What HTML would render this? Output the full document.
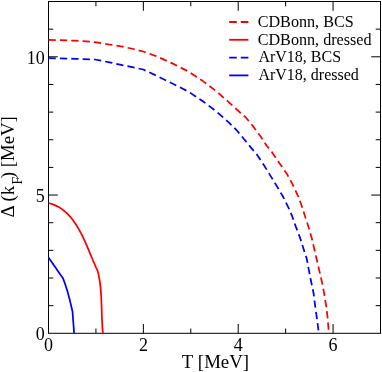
<!DOCTYPE html>
<html><head><meta charset="utf-8"><title>Gap vs temperature</title>
<style>
html,body{margin:0;padding:0;background:#fff;}
body{width:382px;height:372px;overflow:hidden;}
svg{display:block;will-change:transform;transform:translateZ(0);}
text{font-family:"Liberation Serif",serif;fill:#000;font-kerning:none;}
</style></head><body>
<svg width="382" height="372" viewBox="0 0 382 372">
<rect x="0" y="0" width="382" height="372" fill="#fff"/>
<g stroke="#000" stroke-width="1" fill="none">
<line x1="95.93" y1="333.3" x2="95.93" y2="328.50"/>
<line x1="95.93" y1="1.5" x2="95.93" y2="6.30"/>
<line x1="143.36" y1="333.3" x2="143.36" y2="324.00"/>
<line x1="143.36" y1="1.5" x2="143.36" y2="10.80"/>
<line x1="190.79" y1="333.3" x2="190.79" y2="328.50"/>
<line x1="190.79" y1="1.5" x2="190.79" y2="6.30"/>
<line x1="238.21" y1="333.3" x2="238.21" y2="324.00"/>
<line x1="238.21" y1="1.5" x2="238.21" y2="10.80"/>
<line x1="285.64" y1="333.3" x2="285.64" y2="328.50"/>
<line x1="285.64" y1="1.5" x2="285.64" y2="6.30"/>
<line x1="333.07" y1="333.3" x2="333.07" y2="324.00"/>
<line x1="333.07" y1="1.5" x2="333.07" y2="10.80"/>
<line x1="48.5" y1="305.65" x2="53.30" y2="305.65"/>
<line x1="380.5" y1="305.65" x2="375.70" y2="305.65"/>
<line x1="48.5" y1="278.00" x2="53.30" y2="278.00"/>
<line x1="380.5" y1="278.00" x2="375.70" y2="278.00"/>
<line x1="48.5" y1="250.35" x2="53.30" y2="250.35"/>
<line x1="380.5" y1="250.35" x2="375.70" y2="250.35"/>
<line x1="48.5" y1="222.70" x2="53.30" y2="222.70"/>
<line x1="380.5" y1="222.70" x2="375.70" y2="222.70"/>
<line x1="48.5" y1="195.05" x2="57.80" y2="195.05"/>
<line x1="380.5" y1="195.05" x2="371.20" y2="195.05"/>
<line x1="48.5" y1="167.40" x2="53.30" y2="167.40"/>
<line x1="380.5" y1="167.40" x2="375.70" y2="167.40"/>
<line x1="48.5" y1="139.75" x2="53.30" y2="139.75"/>
<line x1="380.5" y1="139.75" x2="375.70" y2="139.75"/>
<line x1="48.5" y1="112.10" x2="53.30" y2="112.10"/>
<line x1="380.5" y1="112.10" x2="375.70" y2="112.10"/>
<line x1="48.5" y1="84.45" x2="53.30" y2="84.45"/>
<line x1="380.5" y1="84.45" x2="375.70" y2="84.45"/>
<line x1="48.5" y1="56.80" x2="57.80" y2="56.80"/>
<line x1="380.5" y1="56.80" x2="371.20" y2="56.80"/>
<line x1="48.5" y1="29.15" x2="53.30" y2="29.15"/>
<line x1="380.5" y1="29.15" x2="375.70" y2="29.15"/>
<rect x="48.5" y="1.5" width="332.0" height="331.80" stroke-width="1"/>
</g>
<g fill="none" stroke-width="1.75" stroke-linejoin="round">
<polyline points="48.5,39.8 75.4,40.7 94.8,42.1 109.4,44.5 122.3,46.6 133.5,49.0 143.2,51.5 156.1,56.1 172.3,63.4 188.4,71.5 202.9,81.1 215.8,90.8 228.7,102.1 238.4,111.0 246.0,117.7 254.0,127.4 260.5,136.3 266.9,146.0 271.8,151.9 279.8,163.7 287.1,174.2 292.7,184.7 298.4,196.8 301.9,206.5 304.7,215.3 308.7,227.4 312.3,240.3 314.5,250.0 316.8,259.7 319.2,270.2 321.8,281.5 324.0,292.7 326.2,306.1 327.5,316.9 328.6,329.7 328.9,333.3" stroke="#ff0000" stroke-dasharray="7.3 4.08"/>
<polyline points="48.5,58.1 75.4,58.8 94.8,59.5 109.4,62.3 122.3,65.2 133.5,67.4 143.2,69.5 156.1,75.5 172.3,83.5 188.4,91.6 202.9,101.3 215.8,111.0 228.7,122.3 236.3,129.8 244.4,139.5 251.6,148.4 256.5,154.0 264.5,166.1 271.0,176.6 277.4,187.1 283.1,196.8 288.7,208.1 291.8,215.3 295.8,226.6 299.8,237.1 303.4,248.4 306.8,258.9 308.9,270.2 311.1,281.5 313.5,292.7 315.2,306.1 316.5,315.5 317.6,323.6 318.4,330.0 318.7,333.3" stroke="#0000ff" stroke-dasharray="7.3 4.08"/>
<polyline points="48.5,203.0 52.3,204.1 55.8,205.6 59.2,207.3 62.3,209.4 65.1,211.7 67.8,214.2 70.3,216.9 72.7,219.8 74.9,222.9 77.0,226.1 78.9,229.4 80.7,232.7 82.5,236.1 84.1,239.6 85.7,243.1 87.2,246.7 88.7,250.2 90.2,253.8 91.7,257.3 93.1,260.8 94.6,264.2 96.1,267.6 97.7,270.9 98.9,276.5 99.9,282.1 100.5,287.7 101.0,293.4 101.3,299.1 101.5,304.8 101.7,310.5 101.8,316.2 102.1,321.9 102.4,327.6 102.9,333.3" stroke="#ff0000"/>
<polyline points="48.5,257.5 54.8,266.5 60.1,274.3 62.8,277.9 64.2,281.5 65.5,285.2 66.7,288.9 67.8,292.6 68.8,296.4 69.8,300.1 70.7,303.9 71.6,307.7 72.5,311.5 74.1,333.3" stroke="#0000ff"/>
</g>
<g font-size="18">
<text x="48.5" y="351" text-anchor="middle">0</text>
<text x="143.4" y="351" text-anchor="middle">2</text>
<text x="238.2" y="351" text-anchor="middle">4</text>
<text x="333.1" y="351" text-anchor="middle">6</text>
<text x="44.8" y="340" text-anchor="end">0</text>
<text x="44.8" y="202" text-anchor="end">5</text>
<text x="44.8" y="64" text-anchor="end">10</text>
</g>
<line x1="229.2" y1="22.0" x2="248.4" y2="22.0" stroke="#ff0000" stroke-width="1.8" stroke-dasharray="7.6 4"/>
<text x="257.7" y="26.8" font-size="16.15">CDBonn, BCS</text>
<line x1="229.2" y1="39.8" x2="248.4" y2="39.8" stroke="#ff0000" stroke-width="1.8"/>
<text x="257.7" y="44.6" font-size="16.15">CDBonn, dressed</text>
<line x1="229.2" y1="57.6" x2="248.4" y2="57.6" stroke="#0000ff" stroke-width="1.8" stroke-dasharray="7.6 4"/>
<text x="258.4" y="62.4" font-size="16.0">ArV18, BCS</text>
<line x1="229.2" y1="75.4" x2="248.4" y2="75.4" stroke="#0000ff" stroke-width="1.8"/>
<text x="258.4" y="80.2" font-size="16.0">ArV18, dressed</text>
<text transform="translate(181.66,368) scale(1.058,1)" font-size="17.8">T [MeV]</text>
<g transform="translate(14.3,217.61) rotate(-90) scale(1.058,1)" font-size="17.8">
<text x="0" y="0">Δ</text>
<text x="15.32" y="0">(k</text>
<text x="31.0" y="7.9" font-size="13.8">F</text>
<text x="37.13" y="0">) [MeV]</text>
</g>
</svg>
</body></html>
